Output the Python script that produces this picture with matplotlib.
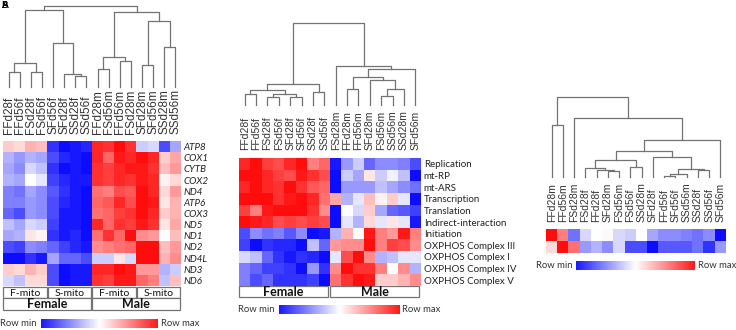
import numpy as np
import matplotlib
matplotlib.use('Agg')
import matplotlib.pyplot as plt
from matplotlib.patches import Rectangle

W, H = 736, 330

# ---- panel A : mito genes ----
samples_a = ['FFd28f', 'FFd56f', 'FSd28f', 'FSd56f', 'SFd56f', 'SFd28f', 'SSd28f', 'SSd56f',
             'FFd28m', 'FSd56m', 'FFd56m', 'FSd28m', 'SFd28m', 'SFd56m', 'SSd28m', 'SSd56m']
genes_a = ['ATP8', 'COX1', 'CYTB', 'COX2', 'ND4', 'ATP6', 'COX3', 'ND5', 'ND1', 'ND2', 'ND4L', 'ND3', 'ND6']
vals_a = [
    [0.2, 0.15, 0.3, 0.25, -0.8, -0.95, -0.9, -0.85, 0.85, 0.8, 0.95, 0.8, -0.2, -0.15, -0.7, -0.35],
    [-0.3, -0.4, -0.3, -0.35, -0.7, -0.85, -0.9, -0.95, 0.85, 0.6, 0.9, 0.85, 0.95, 0.85, 0.2, 0.35],
    [-0.35, -0.45, -0.15, -0.25, -0.8, -0.95, -0.9, -0.95, 0.8, 0.75, 0.85, 0.9, 0.9, 0.8, 0.25, 0.4],
    [-0.3, -0.35, 0.0, -0.1, -0.75, -0.85, -0.9, -0.9, 0.8, 0.75, 0.85, 0.8, 0.9, 0.85, 0.05, 0.15],
    [-0.5, -0.55, -0.35, -0.45, -0.65, -0.8, -0.9, -0.95, 0.55, 0.5, 0.7, 0.65, 0.95, 0.85, 0.15, 0.4],
    [-0.5, -0.5, -0.4, -0.45, -0.7, -0.85, -0.9, -0.95, 0.6, 0.65, 0.85, 0.7, 0.95, 0.9, 0.1, 0.3],
    [-0.6, -0.7, -0.4, -0.45, -0.7, -0.9, -0.9, -0.95, 0.55, 0.6, 0.75, 0.8, 0.95, 0.85, 0.2, 0.3],
    [-0.25, -0.35, -0.15, -0.2, -0.75, -0.9, -0.9, -0.95, 0.85, 0.6, 0.8, 0.75, 0.9, 0.8, 0.1, 0.35],
    [-0.35, -0.3, 0.1, 0.05, -0.8, -0.9, -0.85, -0.95, 0.55, 0.8, 0.6, 0.95, 0.45, 0.4, 0.0, 0.25],
    [-0.7, -0.75, -0.45, -0.5, -0.6, -0.75, -0.85, -0.9, 0.45, 0.5, 0.55, 0.6, 0.95, 0.95, 0.25, 0.4],
    [-0.95, -0.95, -0.8, -0.9, -0.35, -0.6, -0.6, -0.7, -0.2, -0.2, 0.1, -0.15, 0.95, 0.95, 0.3, 0.45],
    [0.2, 0.15, 0.3, 0.2, -0.7, -0.95, -0.9, -0.9, 0.85, 0.85, 0.95, 0.9, 0.4, 0.4, -0.3, -0.2],
    [-0.15, -0.25, 0.15, 0.15, -0.7, -0.95, -0.9, -0.9, 0.8, 0.75, 0.9, 0.9, 0.6, 0.5, -0.25, 0.25],
]
# merges: (left, right, height); ids >= 16 are earlier merges
link_a = [(0, 1, 15), (2, 3, 15), (16, 17, 24), (6, 7, 11), (5, 19, 13), (4, 20, 44), (18, 21, 77),
          (8, 9, 18), (10, 11, 26), (23, 24, 30), (12, 13, 22), (14, 15, 40), (26, 27, 66),
          (25, 28, 75), (22, 29, 81)]
mito_a = ['F-mito', 'S-mito', 'F-mito', 'S-mito']
sex_labels = ['Female', 'Male']

# ---- panel B : pathway groups ----
samples_b = ['FFd28f', 'FFd56f', 'FSd28f', 'FSd56f', 'SFd28f', 'SFd56f', 'SSd28f', 'SSd56f',
             'FSd28m', 'FFd28m', 'FFd56m', 'SFd28m', 'FSd56m', 'SSd56m', 'SSd28m', 'SFd56m']
paths_b = ['Replication', 'mt-RP', 'mt-ARS', 'Transcription', 'Translation', 'Indirect-interaction',
           'Initiation', 'OXPHOS Complex III', 'OXPHOS Complex I', 'OXPHOS Complex IV', 'OXPHOS Complex V']
vals_b = [
    [0.85, 0.95, 0.75, 0.7, 0.85, 0.95, 0.5, 0.6, -0.9, -0.4, -0.2, -0.6, -0.45, -0.45, -0.5, -0.7],
    [0.95, 0.95, 0.85, 0.75, 0.7, 0.9, 0.8, 0.7, -0.95, -0.2, -0.35, 0.1, -0.2, -0.05, -0.25, -0.95],
    [0.85, 0.95, 0.85, 0.8, 0.95, 0.8, 0.65, 0.6, -0.95, -0.4, -0.4, -0.4, -0.25, -0.35, -0.45, -0.55],
    [0.95, 0.95, 0.95, 0.8, 0.9, 0.95, 0.85, 0.55, 0.35, -0.3, -0.1, 0.25, 0.05, 0.2, -0.1, -0.95],
    [0.75, 0.5, 0.9, 0.95, 0.95, 0.95, 0.8, 0.45, -0.95, 0.0, -0.15, 0.2, -0.35, -0.6, -0.65, -0.75],
    [0.95, 0.9, 0.85, 0.7, 0.75, 0.7, 0.75, 0.7, -0.95, -0.1, -0.3, 0.15, -0.1, 0.1, -0.1, -0.9],
    [-0.7, -0.45, -0.55, -0.5, -0.65, -0.45, -0.95, -0.9, -0.3, 0.3, 0.0, 0.9, 0.5, 0.4, 0.9, 0.5],
    [-0.75, -0.95, -0.8, -0.85, -0.85, -0.95, -0.25, -0.6, 0.4, 0.45, 0.45, 0.95, 0.5, 0.75, 0.7, 0.45],
    [-0.15, -0.25, -0.6, -0.8, -0.9, -0.8, -0.85, -0.95, -0.1, 0.7, 0.95, 0.45, -0.3, -0.25, -0.1, -0.1],
    [-0.5, -0.6, -0.75, -0.75, -0.8, -0.95, -0.4, -0.8, 0.45, 0.95, 0.8, 0.8, 0.5, 0.0, 0.45, -0.3],
    [-0.5, -0.7, -0.6, -0.8, -0.8, -0.8, -0.75, -0.95, 0.55, 0.8, 0.95, 0.9, 0.2, 0.2, 0.3, 0.45],
]
link_b = [(0, 1, 11), (2, 3, 8), (4, 5, 8), (17, 18, 11), (16, 19, 15), (6, 7, 13), (20, 21, 21),
          (9, 10, 16), (12, 13, 9), (24, 14, 16), (11, 25, 25), (23, 26, 28), (27, 15, 36),
          (8, 28, 39), (22, 29, 82)]

# ---- panel C : two rows, no labels ----
samples_c = ['FFd28m', 'FFd56m', 'FSd28m', 'FSd28f', 'FFd28f', 'SFd28m', 'FSd56m', 'FSd56f',
             'SSd28m', 'SFd28f', 'FFd56f', 'SFd56f', 'SSd56m', 'SSd28f', 'SSd56f', 'SFd56m']
vals_c = [
    [0.95, 0.5, -0.55, -0.15, 0.0, 0.02, -0.15, -0.2, 0.0, -0.35, -0.45, -0.45, -0.5, -0.55, -0.45, -0.95],
    [0.15, 0.95, 0.55, -0.4, -0.3, -0.45, -0.15, -0.7, -0.7, -0.95, -0.65, -0.65, -0.65, -0.55, -0.8, -0.4],
]
link_c = [(0, 1, 52), (5, 6, 6), (4, 17, 7.5), (3, 18, 9), (7, 8, 10), (19, 20, 17), (10, 11, 1.5),
          (22, 12, 3.5), (13, 14, 7), (23, 24, 8.5), (9, 25, 20), (21, 26, 26), (27, 15, 37),
          (2, 28, 59), (16, 29, 80)]

TXT = 'Lato'
COLF = 'Liberation Sans'


def px_rect(x0, y0, x1, y1):
    return [x0 / W, 1 - y1 / H, (x1 - x0) / W, (y1 - y0) / H]


def dendro(fig, rect, links, n):
    ax = fig.add_axes(rect)
    xs = {i: i for i in range(n)}
    hs = {i: 0 for i in range(n)}
    for k, (a, b, h) in enumerate(links):
        ax.plot([xs[a], xs[a], xs[b], xs[b]], [hs[a], h, h, hs[b]],
                color='0.45', lw=0.9, clip_on=False)
        xs[n + k] = (xs[a] + xs[b]) / 2
        hs[n + k] = h
    ax.set_xlim(-0.5, n - 0.5)
    ax.set_ylim(0, max(l[2] for l in links))
    ax.axis('off')


def heat(fig, rect, vals, cols, rows, colfs, pad, rowfs=7, italic=False):
    ax = fig.add_axes(rect)
    ax.imshow(np.array(vals), cmap='bwr', vmin=-1, vmax=1, aspect='auto', interpolation='nearest')
    ax.xaxis.tick_top()
    ax.set_xticks(range(len(cols)))
    ax.set_xticklabels(cols, rotation=90, fontsize=colfs, family=COLF, color='#333333')
    ax.tick_params(axis='x', length=0, pad=pad)
    if rows:
        ax.yaxis.tick_right()
        ax.set_yticks(range(len(rows)))
        ax.set_yticklabels(rows, fontsize=rowfs, family=TXT, color='#222222',
                           style='italic' if italic else 'normal')
        ax.tick_params(axis='y', length=0, pad=2)
    else:
        ax.set_yticks([])
    for s in ax.spines.values():
        s.set_visible(False)
    return ax


def cbar(fig, over, x0, x1, y0, y1):
    ax = fig.add_axes(px_rect(x0, y0, x1, y1))
    ax.imshow(np.linspace(-0.9, 0.9, 256)[None, :], cmap='bwr', vmin=-1, vmax=1, aspect='auto')
    ax.axis('off')
    ym = (y0 + y1) / 2
    over.text(x0 - 4, ym, 'Row min', ha='right', va='center', fontsize=6.8, family=TXT, color='#333333')
    over.text(x1 + 3, ym, 'Row max', ha='left', va='center', fontsize=6.8, family=TXT, color='#333333')


def box(over, x0, x1, y0, y1, label, bold=False, fs=8):
    over.add_patch(Rectangle((x0, y0), x1 - x0, y1 - y0, facecolor='white',
                             edgecolor='0.45', lw=0.9))
    over.text((x0 + x1) / 2, (y0 + y1) / 2 + 0.5, label, ha='center', va='center', fontsize=fs,
              family=TXT, fontweight='bold' if bold else 'normal', color='#111111')


fig = plt.figure(figsize=(W / 100, H / 100), dpi=100)
over = fig.add_axes([0, 0, 1, 1])
over.set_xlim(0, W)
over.set_ylim(H, 0)
over.axis('off')
over.set_zorder(-1)

# panel A
dendro(fig, px_rect(3, 6, 181, 87), link_a, len(samples_a))
heat(fig, px_rect(3, 141, 181, 286), vals_a, samples_a, genes_a, 8.5, 5, rowfs=7, italic=True)
mw = (181 - 3) / 4
for i, lab in enumerate(mito_a):
    box(over, 3 + i * mw, 3 + (i + 1) * mw - 1, 287, 298, lab, fs=7.5)
for i, lab in enumerate(sex_labels):
    box(over, 3 + i * 2 * mw, 3 + (i + 1) * 2 * mw - 1, 298, 310, lab, bold=True, fs=9)
cbar(fig, over, 41, 158, 319, 328)

# panel B
dendro(fig, px_rect(239, 23, 421, 105), link_b, len(samples_b))
heat(fig, px_rect(239, 158, 421, 286), vals_b, samples_b, paths_b, 7.5, 6, rowfs=7)
bw = (421 - 239) / 2
for i, lab in enumerate(sex_labels):
    box(over, 239 + i * bw, 239 + (i + 1) * bw - 2, 286, 297, lab, bold=True, fs=9)
cbar(fig, over, 279, 399, 305, 314)

# panel C
dendro(fig, px_rect(546, 97, 726, 177), link_c, len(samples_c))
heat(fig, px_rect(546, 229, 726, 253), vals_c, samples_c, None, 7.5, 5)
cbar(fig, over, 576, 695, 261, 270)

# panel letters (overlapping in source)
over.text(1, 1, 'A', ha='left', va='top', fontsize=7, fontweight='bold', family=TXT)
over.text(1, 1, 'B', ha='left', va='top', fontsize=7, fontweight='bold', family=TXT)

fig.savefig('out.png', dpi=100)
